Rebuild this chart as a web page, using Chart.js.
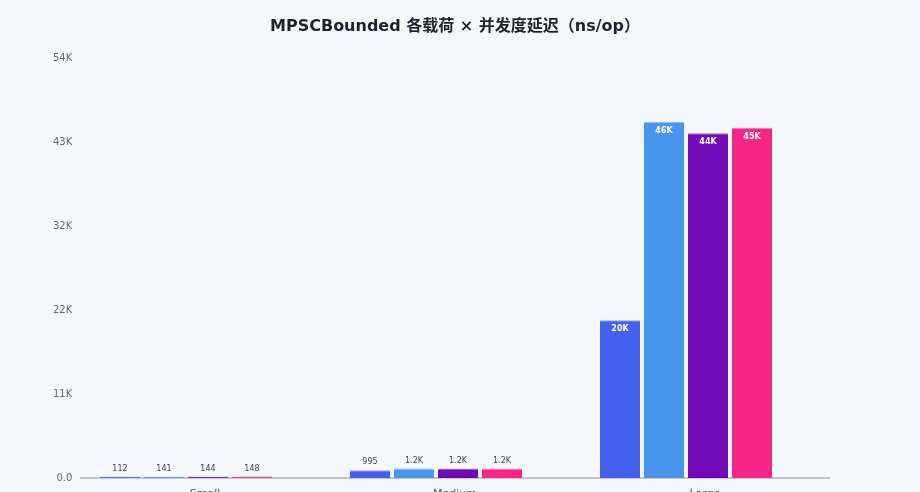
<!DOCTYPE html>
<html>
<head>
<meta charset="utf-8">
<script src="https://cdn.jsdelivr.net/npm/chart.js@4"></script>
<style>
  html, body { margin: 0; padding: 0; background: #f5f8fa; }
  #wrap { width: 920px; height: 492px; position: relative; }
</style>
</head>
<body>
<div id="wrap"><canvas id="chart"></canvas></div>
<script>
const categories = ["Small", "Medium", "Large"]
const seriesNames = ["并发 1", "并发 2", "并发 4", "并发 8"]
const series1 = [112, 995, 20270]
const series2 = [141, 1210, 45800]
const series3 = [144, 1215, 44340]
const series4 = [148, 1225, 44990]
const yMax = 54000
const yStep = 10800
const titleText = "MPSCBounded 各载荷 × 并发度延迟（ns/op）"

const colors = ["#4361ee", "#4895ef", "#7209b7", "#f72585"]
const topColors = ["#8ea0f5", "#91bff5", "#aa6bd4", "#fa7cb6"]
const fontFamily = "'DejaVu Sans', Verdana, 'Noto Sans CJK SC', sans-serif"

function shortValue(v){
    if (v < 1000) return String(v)
    if (v < 10000) return (v / 1000).toFixed(1) + "K"
    return Math.round(v / 1000) + "K"
}

// axis line and title sit 19px right of the bar grid, like the original
const baseline = {
    id: "baseline",
    beforeDatasetsDraw(chart){
        const ctx = chart.ctx
        const area = chart.chartArea
        const y = chart.scales.y.getPixelForValue(0)
        ctx.save()
        ctx.strokeStyle = "#c4c6c8"
        ctx.lineWidth = 2
        ctx.beginPath()
        ctx.moveTo(area.left + 19, y)
        ctx.lineTo(area.right + 19, y)
        ctx.stroke()

        ctx.fillStyle = "#1e2230"
        ctx.font = "bold 16px " + fontFamily
        ctx.textAlign = "center"
        ctx.textBaseline = "middle"
        ctx.fillText(titleText, (area.left + area.right) / 2 + 19, 27)
        ctx.restore()
    }
}

const barLabels = {
    id: "barLabels",
    afterDatasetsDraw(chart){
        const ctx = chart.ctx
        ctx.save()
        ctx.textAlign = "center"
        ctx.textBaseline = "middle"
        chart.data.datasets.forEach((ds, i) => {
            chart.getDatasetMeta(i).data.forEach((bar, j) => {
                const text = shortValue(ds.data[j])
                const h = bar.base - bar.y
                if (h > 20) {
                    ctx.fillStyle = "#ffffff"
                    ctx.font = "bold 8px " + fontFamily
                    ctx.fillText(text, bar.x, bar.y + 9)
                } else {
                    ctx.fillStyle = "#444444"
                    ctx.font = "8px " + fontFamily
                    ctx.fillText(text, bar.x, bar.y - 8)
                }
            })
        })
        ctx.restore()
    }
}

const allSeries = [series1, series2, series3, series4]
const datasets = allSeries.map((data, i) => ({
    label: seriesNames[i],
    data: data,
    backgroundColor: colors[i],
    borderColor: topColors[i],
    borderWidth: { top: 1, left: 0, right: 0, bottom: 0 },
    borderSkipped: "bottom",
    minBarLength: 1.5,
    categoryPercentage: 0.704,
    barPercentage: 40 / 44
}))

new Chart(document.getElementById("chart"), {
    type: "bar",
    data: { labels: categories, datasets: datasets },
    options: {
        responsive: true,
        maintainAspectRatio: false,
        animation: false,
        layout: { padding: { left: 0, right: 109, top: 58, bottom: 0 } },
        plugins: {
            legend: { display: false },
            tooltip: { enabled: false },
            title: { display: false }
        },
        scales: {
            x: {
                grid: { display: false, drawTicks: false },
                border: { display: false },
                ticks: {
                    color: "#555555",
                    font: { family: fontFamily, size: 11 },
                    padding: 10,
                    labelOffset: 19
                },
                afterFit(scale){ scale.height = 14 }
            },
            y: {
                min: 0,
                max: yMax,
                grid: { display: false, drawTicks: false },
                border: { display: false },
                ticks: {
                    stepSize: yStep,
                    color: "#666666",
                    font: { family: fontFamily, size: 10 },
                    mirror: true,
                    crossAlign: "far",
                    padding: -8,
                    callback: (v) => v === 0 ? "0.0" : Math.round(v / 1000) + "K"
                },
                afterFit(scale){ scale.width = 61 }
            }
        }
    },
    plugins: [baseline, barLabels]
})
</script>
</body>
</html>
